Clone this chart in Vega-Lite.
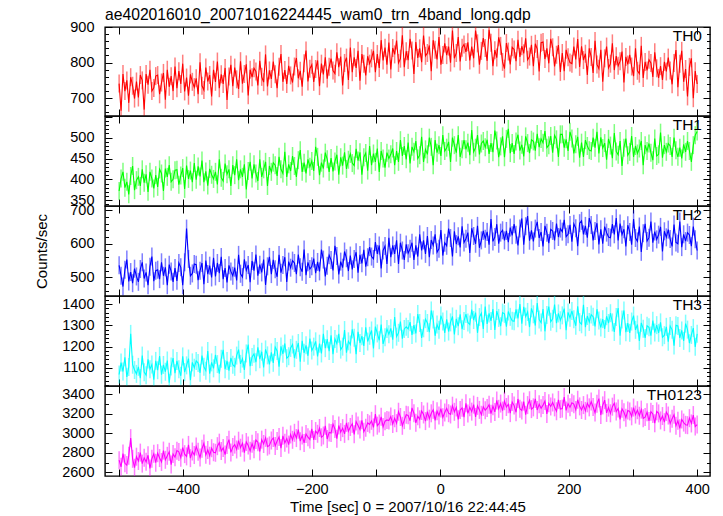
{
"$schema":"https://vega.github.io/schema/vega-lite/v6.json",
"padding":{"left":34,"top":6,"right":10,"bottom":4},
"bounds":"flush",
"title":{"text":"ae402016010_20071016224445_wam0_trn_4band_long.qdp","anchor":"start","frame":"group","fontSize":15.7,"offset":-5},
"datasets":{"w":[
{"t":-500,"a":741,"b":372,"c":536,"d":1069,"e":2724},{"t":-497,"a":665,"b":402,"c":505,"d":1125,"e":2656},{"t":-494,"a":768,"b":418,"c":473,"d":1083,"e":2792},{"t":-491,"a":720,"b":380,"c":523,"d":1150,"e":2692},{"t":-488,"a":750,"b":394,"c":553,"d":1058,"e":2674},{"t":-485,"a":687,"b":364,"c":488,"d":1104,"e":2769},{"t":-482,"a":759,"b":408,"c":516,"d":1260,"e":2950},{"t":-479,"a":735,"b":432,"c":483,"d":1115,"e":2738},{"t":-476,"a":699,"b":374,"c":526,"d":1090,"e":2647},{"t":-473,"a":747,"b":398,"c":503,"d":1072,"e":2760},
{"t":-470,"a":702,"b":406,"c":487,"d":1105,"e":2716},{"t":-467,"a":765,"b":384,"c":525,"d":1052,"e":2802},{"t":-464,"a":750,"b":424,"c":545,"d":1158,"e":2689},{"t":-461,"a":668,"b":392,"c":497,"d":1080,"e":2748},{"t":-458,"a":768,"b":412,"c":515,"d":1066,"e":2707},{"t":-455,"a":738,"b":370,"c":477,"d":1140,"e":2775},{"t":-452,"a":780,"b":418,"c":532,"d":1094,"e":2640},{"t":-449,"a":720,"b":402,"c":562,"d":1116,"e":2739},{"t":-446,"a":729,"b":378,"c":489,"d":1045,"e":2789},{"t":-443,"a":762,"b":410,"c":520,"d":1133,"e":2698},
{"t":-440,"a":765,"b":382,"c":523,"d":1089,"e":2796},{"t":-437,"a":711,"b":424,"c":495,"d":1156,"e":2746},{"t":-434,"a":744,"b":414,"c":545,"d":1068,"e":2706},{"t":-431,"a":771,"b":372,"c":505,"d":1114,"e":2823},{"t":-428,"a":696,"b":426,"c":530,"d":1082,"e":2728},{"t":-425,"a":780,"b":406,"c":477,"d":1135,"e":2769},{"t":-422,"a":732,"b":434,"c":538,"d":1030,"e":2810},{"t":-419,"a":762,"b":394,"c":518,"d":1107,"e":2679},{"t":-416,"a":720,"b":400,"c":487,"d":1146,"e":2787},{"t":-413,"a":789,"b":422,"c":528,"d":1075,"e":2755},
{"t":-410,"a":728,"b":423,"c":490,"d":1133,"e":2822},{"t":-407,"a":776,"b":387,"c":543,"d":1094,"e":2809},{"t":-404,"a":740,"b":409,"c":530,"d":1063,"e":2750},{"t":-401,"a":797,"b":427,"c":477,"d":1154,"e":2854},{"t":-398,"a":719,"b":377,"c":545,"d":1080,"e":2786},{"t":-395,"a":758,"b":433,"c":645,"d":1112,"e":2763},{"t":-392,"a":707,"b":401,"c":555,"d":1144,"e":2881},{"t":-389,"a":767,"b":421,"c":505,"d":1042,"e":2745},{"t":-386,"a":746,"b":393,"c":512,"d":1126,"e":2813},{"t":-383,"a":731,"b":439,"c":540,"d":1101,"e":2777},
{"t":-380,"a":756,"b":399,"c":538,"d":1133,"e":2865},{"t":-377,"a":711,"b":431,"c":492,"d":1123,"e":2810},{"t":-374,"a":801,"b":407,"c":520,"d":1077,"e":2752},{"t":-371,"a":735,"b":445,"c":543,"d":1158,"e":2842},{"t":-368,"a":723,"b":393,"c":480,"d":1105,"e":2896},{"t":-365,"a":786,"b":419,"c":550,"d":1087,"e":2779},{"t":-362,"a":747,"b":385,"c":510,"d":1179,"e":2829},{"t":-359,"a":765,"b":425,"c":535,"d":1073,"e":2770},{"t":-356,"a":705,"b":411,"c":500,"d":1126,"e":2847},{"t":-353,"a":780,"b":401,"c":558,"d":1098,"e":2806},
{"t":-350,"a":746,"b":418,"c":503,"d":1161,"e":2800},{"t":-347,"a":803,"b":388,"c":543,"d":1118,"e":2868},{"t":-344,"a":728,"b":448,"c":513,"d":1073,"e":2904},{"t":-341,"a":767,"b":404,"c":561,"d":1143,"e":2818},{"t":-338,"a":740,"b":396,"c":495,"d":1185,"e":2850},{"t":-335,"a":785,"b":438,"c":528,"d":1094,"e":2782},{"t":-332,"a":695,"b":412,"c":485,"d":1133,"e":2881},{"t":-329,"a":761,"b":424,"c":536,"d":1087,"e":2935},{"t":-326,"a":794,"b":384,"c":518,"d":1147,"e":2804},{"t":-323,"a":734,"b":434,"c":505,"d":1115,"e":2859},
{"t":-320,"a":786,"b":410,"c":529,"d":1105,"e":2884},{"t":-317,"a":753,"b":448,"c":491,"d":1158,"e":2834},{"t":-314,"a":726,"b":398,"c":567,"d":1186,"e":2924},{"t":-311,"a":804,"b":424,"c":511,"d":1119,"e":2852},{"t":-308,"a":741,"b":406,"c":501,"d":1144,"e":2897},{"t":-305,"a":768,"b":436,"c":554,"d":1091,"e":2802},{"t":-302,"a":795,"b":376,"c":521,"d":1168,"e":2911},{"t":-299,"a":708,"b":420,"c":537,"d":1210,"e":2875},{"t":-296,"a":780,"b":442,"c":486,"d":1108,"e":2820},{"t":-293,"a":759,"b":402,"c":549,"d":1151,"e":2893},
{"t":-290,"a":784,"b":436,"c":520,"d":1166,"e":2836},{"t":-287,"a":775,"b":414,"c":568,"d":1127,"e":2931},{"t":-284,"a":736,"b":396,"c":505,"d":1197,"e":2908},{"t":-281,"a":805,"b":448,"c":538,"d":1141,"e":2813},{"t":-278,"a":760,"b":406,"c":515,"d":1176,"e":2935},{"t":-275,"a":745,"b":424,"c":553,"d":1102,"e":2890},{"t":-272,"a":823,"b":442,"c":478,"d":1187,"e":2953},{"t":-269,"a":733,"b":384,"c":533,"d":1159,"e":2863},{"t":-266,"a":778,"b":432,"c":561,"d":1116,"e":2876},{"t":-263,"a":754,"b":418,"c":510,"d":1173,"e":2926},
{"t":-260,"a":803,"b":440,"c":552,"d":1124,"e":2952},{"t":-257,"a":767,"b":434,"c":524,"d":1198,"e":2870},{"t":-254,"a":728,"b":408,"c":502,"d":1180,"e":2920},{"t":-251,"a":788,"b":454,"c":567,"d":1106,"e":2961},{"t":-248,"a":824,"b":424,"c":514,"d":1201,"e":2848},{"t":-245,"a":746,"b":414,"c":537,"d":1166,"e":2974},{"t":-242,"a":779,"b":466,"c":560,"d":1215,"e":2902},{"t":-239,"a":740,"b":406,"c":487,"d":1145,"e":2947},{"t":-236,"a":791,"b":436,"c":547,"d":1155,"e":2884},{"t":-233,"a":764,"b":420,"c":529,"d":1194,"e":2988},
{"t":-230,"a":744,"b":456,"c":550,"d":1210,"e":2933},{"t":-227,"a":789,"b":432,"c":543,"d":1146,"e":3005},{"t":-224,"a":813,"b":406,"c":510,"d":1185,"e":2951},{"t":-221,"a":756,"b":446,"c":568,"d":1217,"e":3037},{"t":-218,"a":777,"b":470,"c":530,"d":1129,"e":2919},{"t":-215,"a":732,"b":418,"c":517,"d":1227,"e":2978},{"t":-212,"a":798,"b":440,"c":583,"d":1171,"e":2901},{"t":-209,"a":834,"b":414,"c":507,"d":1206,"e":2992},{"t":-206,"a":747,"b":448,"c":545,"d":1157,"e":2960},{"t":-203,"a":783,"b":430,"c":525,"d":1238,"e":2937},
{"t":-200,"a":794,"b":444,"c":533,"d":1182,"e":3045},{"t":-197,"a":746,"b":420,"c":556,"d":1200,"e":2932},{"t":-194,"a":782,"b":478,"c":513,"d":1225,"e":3023},{"t":-191,"a":806,"b":454,"c":546,"d":1154,"e":2995},{"t":-188,"a":734,"b":410,"c":518,"d":1214,"e":3054},{"t":-185,"a":797,"b":440,"c":583,"d":1168,"e":2959},{"t":-182,"a":767,"b":426,"c":553,"d":1260,"e":2977},{"t":-179,"a":815,"b":464,"c":503,"d":1193,"e":3077},{"t":-176,"a":755,"b":448,"c":535,"d":1235,"e":2941},{"t":-173,"a":788,"b":418,"c":566,"d":1179,"e":3009},
{"t":-170,"a":811,"b":451,"c":552,"d":1253,"e":3003},{"t":-167,"a":778,"b":419,"c":521,"d":1165,"e":3094},{"t":-164,"a":769,"b":443,"c":594,"d":1236,"e":3044},{"t":-161,"a":829,"b":459,"c":564,"d":1214,"e":2945},{"t":-158,"a":787,"b":411,"c":509,"d":1260,"e":3080},{"t":-155,"a":817,"b":453,"c":547,"d":1186,"e":3012},{"t":-152,"a":736,"b":433,"c":529,"d":1200,"e":3053},{"t":-149,"a":799,"b":465,"c":577,"d":1278,"e":2994},{"t":-146,"a":814,"b":425,"c":557,"d":1172,"e":3107},{"t":-143,"a":751,"b":447,"c":519,"d":1225,"e":3021},
{"t":-140,"a":842,"b":461,"c":565,"d":1210,"e":3065},{"t":-137,"a":773,"b":439,"c":524,"d":1281,"e":3097},{"t":-134,"a":815,"b":433,"c":555,"d":1242,"e":2989},{"t":-131,"a":785,"b":473,"c":575,"d":1165,"e":3120},{"t":-128,"a":833,"b":445,"c":514,"d":1270,"e":3079},{"t":-125,"a":749,"b":465,"c":567,"d":1217,"e":3038},{"t":-122,"a":824,"b":411,"c":542,"d":1249,"e":3133},{"t":-119,"a":797,"b":453,"c":582,"d":1203,"e":3016},{"t":-116,"a":764,"b":463,"c":532,"d":1291,"e":3056},{"t":-113,"a":818,"b":421,"c":560,"d":1224,"e":3106},
{"t":-110,"a":797,"b":480,"c":590,"d":1251,"e":3092},{"t":-107,"a":812,"b":434,"c":562,"d":1276,"e":3128},{"t":-104,"a":833,"b":462,"c":555,"d":1192,"e":3060},{"t":-101,"a":773,"b":442,"c":605,"d":1294,"e":3196},{"t":-98,"a":824,"b":474,"c":570,"d":1262,"e":3078},{"t":-95,"a":785,"b":418,"c":595,"d":1230,"e":3101},{"t":-92,"a":863,"b":468,"c":527,"d":1304,"e":3169},{"t":-89,"a":806,"b":450,"c":580,"d":1213,"e":3065},{"t":-86,"a":842,"b":428,"c":593,"d":1244,"e":3124},{"t":-83,"a":794,"b":464,"c":540,"d":1283,"e":3137},
{"t":-80,"a":856,"b":450,"c":618,"d":1258,"e":3131},{"t":-77,"a":781,"b":460,"c":560,"d":1286,"e":3172},{"t":-74,"a":841,"b":474,"c":595,"d":1233,"e":3095},{"t":-71,"a":823,"b":434,"c":570,"d":1339,"e":3154},{"t":-68,"a":862,"b":468,"c":610,"d":1247,"e":3104},{"t":-65,"a":799,"b":442,"c":540,"d":1265,"e":3221},{"t":-62,"a":811,"b":494,"c":603,"d":1318,"e":3167},{"t":-59,"a":877,"b":456,"c":580,"d":1237,"e":3077},{"t":-56,"a":787,"b":480,"c":552,"d":1283,"e":3135},{"t":-53,"a":832,"b":448,"c":598,"d":1293,"e":3190},
{"t":-50,"a":807,"b":488,"c":572,"d":1283,"e":3184},{"t":-47,"a":867,"b":438,"c":585,"d":1315,"e":3129},{"t":-44,"a":834,"b":478,"c":603,"d":1255,"e":3260},{"t":-41,"a":768,"b":466,"c":552,"d":1301,"e":3206},{"t":-38,"a":858,"b":492,"c":595,"d":1262,"e":3107},{"t":-35,"a":813,"b":450,"c":562,"d":1353,"e":3175},{"t":-32,"a":840,"b":458,"c":628,"d":1311,"e":3143},{"t":-29,"a":801,"b":502,"c":580,"d":1241,"e":3229},{"t":-26,"a":876,"b":442,"c":610,"d":1286,"e":3193},{"t":-23,"a":819,"b":472,"c":570,"d":1329,"e":3125},
{"t":-20,"a":827,"b":460,"c":623,"d":1311,"e":3223},{"t":-17,"a":848,"b":500,"c":560,"d":1268,"e":3150},{"t":-14,"a":776,"b":478,"c":611,"d":1370,"e":3205},{"t":-11,"a":863,"b":434,"c":595,"d":1328,"e":3241},{"t":-8,"a":836,"b":494,"c":628,"d":1251,"e":3132},{"t":-5,"a":809,"b":464,"c":575,"d":1304,"e":3227},{"t":-2,"a":872,"b":482,"c":585,"d":1279,"e":3182},{"t":1,"a":794,"b":456,"c":641,"d":1346,"e":3254},{"t":4,"a":821,"b":506,"c":565,"d":1318,"e":3164},{"t":7,"a":854,"b":468,"c":603,"d":1265,"e":3214},
{"t":10,"a":821,"b":476,"c":594,"d":1328,"e":3256},{"t":13,"a":845,"b":490,"c":645,"d":1271,"e":3206},{"t":16,"a":800,"b":442,"c":617,"d":1314,"e":3193},{"t":19,"a":890,"b":500,"c":562,"d":1342,"e":3283},{"t":22,"a":812,"b":482,"c":637,"d":1257,"e":3220},{"t":25,"a":827,"b":464,"c":599,"d":1331,"e":3265},{"t":28,"a":872,"b":506,"c":622,"d":1296,"e":3143},{"t":31,"a":803,"b":454,"c":589,"d":1352,"e":3238},{"t":34,"a":842,"b":472,"c":652,"d":1282,"e":3261},{"t":37,"a":851,"b":494,"c":604,"d":1321,"e":3166},
{"t":40,"a":830,"b":472,"c":615,"d":1353,"e":3308},{"t":43,"a":857,"b":488,"c":633,"d":1314,"e":3204},{"t":46,"a":806,"b":458,"c":573,"d":1304,"e":3267},{"t":49,"a":845,"b":518,"c":646,"d":1374,"e":3222},{"t":52,"a":812,"b":466,"c":623,"d":1325,"e":3294},{"t":55,"a":890,"b":476,"c":600,"d":1360,"e":3168},{"t":58,"a":854,"b":506,"c":653,"d":1265,"e":3281},{"t":61,"a":794,"b":460,"c":588,"d":1339,"e":3240},{"t":64,"a":833,"b":486,"c":610,"d":1357,"e":3190},{"t":67,"a":869,"b":492,"c":638,"d":1283,"e":3272},
{"t":70,"a":841,"b":477,"c":615,"d":1388,"e":3237},{"t":73,"a":805,"b":495,"c":635,"d":1307,"e":3260},{"t":76,"a":892,"b":461,"c":597,"d":1356,"e":3292},{"t":79,"a":856,"b":487,"c":673,"d":1321,"e":3201},{"t":82,"a":790,"b":465,"c":607,"d":1377,"e":3278},{"t":85,"a":835,"b":517,"c":620,"d":1279,"e":3219},{"t":88,"a":814,"b":493,"c":658,"d":1367,"e":3337},{"t":91,"a":871,"b":453,"c":600,"d":1335,"e":3251},{"t":94,"a":847,"b":479,"c":633,"d":1296,"e":3305},{"t":97,"a":802,"b":503,"c":640,"d":1360,"e":3233},
{"t":100,"a":783,"b":453,"c":610,"d":1354,"e":3329},{"t":103,"a":855,"b":497,"c":638,"d":1294,"e":3270},{"t":106,"a":831,"b":521,"c":605,"d":1365,"e":3298},{"t":109,"a":795,"b":463,"c":648,"d":1340,"e":3207},{"t":112,"a":843,"b":487,"c":625,"d":1322,"e":3320},{"t":115,"a":837,"b":461,"c":658,"d":1319,"e":3284},{"t":118,"a":804,"b":491,"c":627,"d":1375,"e":3216},{"t":121,"a":864,"b":507,"c":595,"d":1333,"e":3352},{"t":124,"a":816,"b":469,"c":645,"d":1400,"e":3252},{"t":127,"a":846,"b":483,"c":675,"d":1308,"e":3234},
{"t":130,"a":826,"b":455,"c":597,"d":1387,"e":3325},{"t":133,"a":868,"b":503,"c":652,"d":1341,"e":3190},{"t":136,"a":808,"b":487,"c":682,"d":1363,"e":3289},{"t":139,"a":817,"b":463,"c":609,"d":1292,"e":3339},{"t":142,"a":850,"b":495,"c":640,"d":1380,"e":3248},{"t":145,"a":790,"b":491,"c":607,"d":1352,"e":3266},{"t":148,"a":853,"b":469,"c":645,"d":1299,"e":3352},{"t":151,"a":838,"b":509,"c":665,"d":1405,"e":3239},{"t":154,"a":775,"b":477,"c":617,"d":1327,"e":3298},{"t":157,"a":856,"b":497,"c":635,"d":1313,"e":3257},
{"t":160,"a":858,"b":488,"c":592,"d":1377,"e":3289},{"t":163,"a":810,"b":516,"c":653,"d":1272,"e":3330},{"t":166,"a":840,"b":476,"c":633,"d":1349,"e":3199},{"t":169,"a":798,"b":482,"c":602,"d":1388,"e":3307},{"t":172,"a":867,"b":504,"c":643,"d":1317,"e":3275},{"t":175,"a":843,"b":464,"c":638,"d":1331,"e":3316},{"t":178,"a":789,"b":506,"c":610,"d":1398,"e":3266},{"t":181,"a":822,"b":496,"c":660,"d":1310,"e":3226},{"t":184,"a":849,"b":454,"c":620,"d":1356,"e":3343},{"t":187,"a":774,"b":508,"c":645,"d":1324,"e":3248},
{"t":190,"a":827,"b":508,"c":636,"d":1347,"e":3253},{"t":193,"a":776,"b":476,"c":671,"d":1379,"e":3371},{"t":196,"a":836,"b":496,"c":621,"d":1277,"e":3235},{"t":199,"a":815,"b":468,"c":628,"d":1361,"e":3303},{"t":202,"a":800,"b":514,"c":656,"d":1336,"e":3267},{"t":205,"a":797,"b":498,"c":606,"d":1368,"e":3312},{"t":208,"a":845,"b":462,"c":659,"d":1329,"e":3299},{"t":211,"a":809,"b":484,"c":646,"d":1298,"e":3240},{"t":214,"a":866,"b":502,"c":593,"d":1389,"e":3344},{"t":217,"a":788,"b":452,"c":661,"d":1315,"e":3276},
{"t":220,"a":846,"b":488,"c":668,"d":1305,"e":3239},{"t":223,"a":807,"b":454,"c":628,"d":1397,"e":3289},{"t":226,"a":825,"b":494,"c":653,"d":1291,"e":3230},{"t":229,"a":765,"b":480,"c":618,"d":1344,"e":3307},{"t":232,"a":840,"b":470,"c":676,"d":1316,"e":3266},{"t":235,"a":816,"b":468,"c":656,"d":1351,"e":3325},{"t":238,"a":771,"b":500,"c":610,"d":1341,"e":3270},{"t":241,"a":861,"b":476,"c":638,"d":1295,"e":3212},{"t":244,"a":795,"b":514,"c":661,"d":1376,"e":3302},{"t":247,"a":783,"b":462,"c":598,"d":1323,"e":3356},
{"t":250,"a":836,"b":501,"c":643,"d":1290,"e":3187},{"t":253,"a":746,"b":475,"c":600,"d":1329,"e":3286},{"t":256,"a":812,"b":487,"c":651,"d":1283,"e":3340},{"t":259,"a":845,"b":447,"c":633,"d":1343,"e":3209},{"t":262,"a":785,"b":497,"c":620,"d":1311,"e":3264},{"t":265,"a":797,"b":481,"c":618,"d":1357,"e":3205},{"t":268,"a":854,"b":451,"c":658,"d":1314,"e":3273},{"t":271,"a":779,"b":511,"c":628,"d":1269,"e":3309},{"t":274,"a":818,"b":467,"c":676,"d":1339,"e":3223},{"t":277,"a":791,"b":459,"c":610,"d":1381,"e":3255},
{"t":280,"a":804,"b":492,"c":660,"d":1251,"e":3142},{"t":283,"a":831,"b":432,"c":627,"d":1328,"e":3251},{"t":286,"a":744,"b":476,"c":643,"d":1370,"e":3215},{"t":289,"a":816,"b":498,"c":592,"d":1268,"e":3160},{"t":292,"a":795,"b":458,"c":655,"d":1311,"e":3233},{"t":295,"a":822,"b":466,"c":635,"d":1265,"e":3224},{"t":298,"a":789,"b":504,"c":597,"d":1318,"e":3174},{"t":301,"a":762,"b":454,"c":673,"d":1346,"e":3264},{"t":304,"a":840,"b":480,"c":617,"d":1279,"e":3192},{"t":307,"a":777,"b":462,"c":607,"d":1304,"e":3237},
{"t":310,"a":769,"b":474,"c":651,"d":1227,"e":3180},{"t":313,"a":847,"b":492,"c":576,"d":1312,"e":3243},{"t":316,"a":757,"b":434,"c":631,"d":1284,"e":3153},{"t":319,"a":802,"b":482,"c":659,"d":1241,"e":3166},{"t":322,"a":778,"b":468,"c":608,"d":1298,"e":3216},{"t":325,"a":808,"b":486,"c":618,"d":1291,"e":3126},{"t":328,"a":799,"b":464,"c":666,"d":1252,"e":3221},{"t":331,"a":760,"b":446,"c":603,"d":1322,"e":3198},{"t":334,"a":829,"b":498,"c":636,"d":1266,"e":3103},{"t":337,"a":784,"b":456,"c":613,"d":1301,"e":3225},
{"t":340,"a":757,"b":460,"c":627,"d":1265,"e":3204},{"t":343,"a":790,"b":512,"c":650,"d":1314,"e":3132},{"t":346,"a":751,"b":452,"c":577,"d":1244,"e":3177},{"t":349,"a":802,"b":482,"c":637,"d":1254,"e":3114},{"t":352,"a":775,"b":466,"c":619,"d":1293,"e":3218},{"t":355,"a":814,"b":486,"c":642,"d":1223,"e":3182},{"t":358,"a":778,"b":480,"c":614,"d":1297,"e":3100},{"t":361,"a":739,"b":454,"c":592,"d":1279,"e":3150},{"t":364,"a":799,"b":500,"c":657,"d":1205,"e":3191},{"t":367,"a":835,"b":470,"c":604,"d":1300,"e":3078},
{"t":370,"a":731,"b":454,"c":600,"d":1297,"e":3128},{"t":373,"a":797,"b":476,"c":666,"d":1241,"e":3051},{"t":376,"a":833,"b":450,"c":590,"d":1276,"e":3142},{"t":379,"a":746,"b":484,"c":628,"d":1227,"e":3110},{"t":382,"a":782,"b":466,"c":608,"d":1308,"e":3087},{"t":385,"a":705,"b":492,"c":633,"d":1280,"e":3083},{"t":388,"a":788,"b":468,"c":626,"d":1216,"e":3155},{"t":391,"a":812,"b":442,"c":593,"d":1255,"e":3101},{"t":394,"a":700,"b":482,"c":651,"d":1287,"e":3187},{"t":397,"a":776,"b":506,"c":613,"d":1199,"e":3069},
{"t":400,"a":740,"b":515,"c":580,"d":1260,"e":3090}
]},
"vconcat":[
{"width":605,"height":89,"data":{"name":"w"},
 "layer":[
  {"mark":{"type":"tick","orient":"vertical","color":"#ff0000","size":18,"thickness":1.5,"opacity":0.5,"clip":true},
   "encoding":{
    "x":{"field":"t","type":"quantitative","scale":{"domain":[-522,420],"nice":false,"zero":false},"axis":{"orient":"bottom","values":[-500,-400,-300,-200,-100,0,100,200,300,400],"labels":false,"title":null,"tickSize":-7}},
    "y":{"field":"a","type":"quantitative","scale":{"domain":[650,900],"nice":false,"zero":false},"axis":{"orient":"left","values":[660,680,700,720,740,760,780,800,820,840,860,880,900],"format":"d","labelExpr":"datum.value % 100 === 0 ? datum.label : ''","tickSize":{"condition":{"test":"datum.value % 100 === 0","value":-7},"value":-3.5},"labelPadding":18,"title":null}}}},
  {"mark":{"type":"line","color":"#ff0000","strokeWidth":1.1,"clip":true},
   "encoding":{
    "x":{"field":"t","type":"quantitative","axis":{"orient":"top","values":[-500,-400,-300,-200,-100,0,100,200,300,400],"labels":false,"title":null,"tickSize":-7}},
    "y":{"field":"a","type":"quantitative","axis":{"orient":"right","values":[660,680,700,720,740,760,780,800,820,840,860,880,900],"labels":false,"tickSize":{"condition":{"test":"datum.value % 100 === 0","value":-7},"value":-3.5},"title":null}}}},
  {"data":{"values":[{"name":"TH0"}]},
   "mark":{"type":"text","align":"right","baseline":"top","dx":-8,"dy":2,"fontSize":15.5,"font":"Liberation Sans","color":"#000000"},
   "encoding":{"x":{"datum":420,"type":"quantitative","axis":null},"y":{"datum":900,"type":"quantitative","axis":null},"text":{"field":"name"}}}
 ],
 "resolve":{"axis":{"x":"independent","y":"independent"}}},
{"width":605,"height":90,"data":{"name":"w"},
 "layer":[
  {"mark":{"type":"tick","orient":"vertical","color":"#00ff00","size":18,"thickness":1.5,"opacity":0.5,"clip":true},
   "encoding":{
    "x":{"field":"t","type":"quantitative","scale":{"domain":[-522,420],"nice":false,"zero":false},"axis":{"orient":"bottom","values":[-500,-400,-300,-200,-100,0,100,200,300,400],"labels":false,"title":null,"tickSize":-7}},
    "y":{"field":"b","type":"quantitative","scale":{"domain":[336,552],"nice":false,"zero":false},"axis":{"orient":"left","values":[340,350,360,370,380,390,400,410,420,430,440,450,460,470,480,490,500,510,520,530,540,550],"format":"d","labelExpr":"datum.value % 50 === 0 && datum.value < 540 ? datum.label : ''","tickSize":{"condition":{"test":"datum.value % 50 === 0","value":-7},"value":-3.5},"labelPadding":18,"title":null}}}},
  {"mark":{"type":"line","color":"#00ff00","strokeWidth":1.1,"clip":true},
   "encoding":{
    "x":{"field":"t","type":"quantitative","axis":{"orient":"top","values":[-500,-400,-300,-200,-100,0,100,200,300,400],"labels":false,"title":null,"tickSize":-7}},
    "y":{"field":"b","type":"quantitative","axis":{"orient":"right","values":[340,350,360,370,380,390,400,410,420,430,440,450,460,470,480,490,500,510,520,530,540,550],"labels":false,"tickSize":{"condition":{"test":"datum.value % 50 === 0","value":-7},"value":-3.5},"title":null}}}},
  {"data":{"values":[{"name":"TH1"}]},
   "mark":{"type":"text","align":"right","baseline":"top","dx":-8,"dy":2,"fontSize":15.5,"font":"Liberation Sans","color":"#000000"},
   "encoding":{"x":{"datum":420,"type":"quantitative","axis":null},"y":{"datum":552,"type":"quantitative","axis":null},"text":{"field":"name"}}}
 ],
 "resolve":{"axis":{"x":"independent","y":"independent"}}},
{"width":605,"height":90,"data":{"name":"w"},
 "layer":[
  {"mark":{"type":"tick","orient":"vertical","color":"#0000ff","size":18,"thickness":1.5,"opacity":0.5,"clip":true},
   "encoding":{
    "x":{"field":"t","type":"quantitative","scale":{"domain":[-522,420],"nice":false,"zero":false},"axis":{"orient":"bottom","values":[-500,-400,-300,-200,-100,0,100,200,300,400],"labels":false,"title":null,"tickSize":-7}},
    "y":{"field":"c","type":"quantitative","scale":{"domain":[445,712],"nice":false,"zero":false},"axis":{"orient":"left","values":[460,480,500,520,540,560,580,600,620,640,660,680,700],"format":"d","labelExpr":"datum.value % 100 === 0 ? datum.label : ''","tickSize":{"condition":{"test":"datum.value % 100 === 0","value":-7},"value":-3.5},"labelPadding":18,"title":"Counts/sec","titlePadding":20}}}},
  {"mark":{"type":"line","color":"#0000ff","strokeWidth":1.1,"clip":true},
   "encoding":{
    "x":{"field":"t","type":"quantitative","axis":{"orient":"top","values":[-500,-400,-300,-200,-100,0,100,200,300,400],"labels":false,"title":null,"tickSize":-7}},
    "y":{"field":"c","type":"quantitative","axis":{"orient":"right","values":[460,480,500,520,540,560,580,600,620,640,660,680,700],"labels":false,"tickSize":{"condition":{"test":"datum.value % 100 === 0","value":-7},"value":-3.5},"title":null}}}},
  {"data":{"values":[{"name":"TH2"}]},
   "mark":{"type":"text","align":"right","baseline":"top","dx":-8,"dy":2,"fontSize":15.5,"font":"Liberation Sans","color":"#000000"},
   "encoding":{"x":{"datum":420,"type":"quantitative","axis":null},"y":{"datum":712,"type":"quantitative","axis":null},"text":{"field":"name"}}}
 ],
 "resolve":{"axis":{"x":"independent","y":"independent"}}},
{"width":605,"height":90,"data":{"name":"w"},
 "layer":[
  {"mark":{"type":"tick","orient":"vertical","color":"#00ffff","size":18,"thickness":1.5,"opacity":0.5,"clip":true},
   "encoding":{
    "x":{"field":"t","type":"quantitative","scale":{"domain":[-522,420],"nice":false,"zero":false},"axis":{"orient":"bottom","values":[-500,-400,-300,-200,-100,0,100,200,300,400],"labels":false,"title":null,"tickSize":-7}},
    "y":{"field":"d","type":"quantitative","scale":{"domain":[1015,1438],"nice":false,"zero":false},"axis":{"orient":"left","values":[1020,1040,1060,1080,1100,1120,1140,1160,1180,1200,1220,1240,1260,1280,1300,1320,1340,1360,1380,1400,1420],"format":"d","labelExpr":"datum.value % 100 === 0 ? datum.label : ''","tickSize":{"condition":{"test":"datum.value % 100 === 0","value":-7},"value":-3.5},"labelPadding":18,"title":null}}}},
  {"mark":{"type":"line","color":"#00ffff","strokeWidth":1.1,"clip":true},
   "encoding":{
    "x":{"field":"t","type":"quantitative","axis":{"orient":"top","values":[-500,-400,-300,-200,-100,0,100,200,300,400],"labels":false,"title":null,"tickSize":-7}},
    "y":{"field":"d","type":"quantitative","axis":{"orient":"right","values":[1020,1040,1060,1080,1100,1120,1140,1160,1180,1200,1220,1240,1260,1280,1300,1320,1340,1360,1380,1400,1420],"labels":false,"tickSize":{"condition":{"test":"datum.value % 100 === 0","value":-7},"value":-3.5},"title":null}}}},
  {"data":{"values":[{"name":"TH3"}]},
   "mark":{"type":"text","align":"right","baseline":"top","dx":-8,"dy":2,"fontSize":15.5,"font":"Liberation Sans","color":"#000000"},
   "encoding":{"x":{"datum":420,"type":"quantitative","axis":null},"y":{"datum":1438,"type":"quantitative","axis":null},"text":{"field":"name"}}}
 ],
 "resolve":{"axis":{"x":"independent","y":"independent"}}},
{"width":605,"height":90,"data":{"name":"w"},
 "layer":[
  {"mark":{"type":"tick","orient":"vertical","color":"#ff00ff","size":18,"thickness":1.5,"opacity":0.5,"clip":true},
   "encoding":{
    "x":{"field":"t","type":"quantitative","scale":{"domain":[-522,420],"nice":false,"zero":false},"axis":{"orient":"bottom","values":[-500,-400,-300,-200,-100,0,100,200,300,400],"labelExpr":"datum.value % 200 === 0 ? datum.label : ''","title":"Time [sec] 0 = 2007/10/16 22:44:45","tickSize":-7,"labelPadding":13,"titlePadding":4}},
    "y":{"field":"e","type":"quantitative","scale":{"domain":[2562,3485],"nice":false,"zero":false},"axis":{"orient":"left","values":[2600,2700,2800,2900,3000,3100,3200,3300,3400],"format":"d","labelExpr":"datum.value % 200 === 0 ? datum.label : ''","tickSize":{"condition":{"test":"datum.value % 200 === 0","value":-7},"value":-3.5},"labelPadding":18,"title":null}}}},
  {"mark":{"type":"line","color":"#ff00ff","strokeWidth":1.1,"clip":true},
   "encoding":{
    "x":{"field":"t","type":"quantitative","axis":{"orient":"top","values":[-500,-400,-300,-200,-100,0,100,200,300,400],"labels":false,"title":null,"tickSize":-7}},
    "y":{"field":"e","type":"quantitative","axis":{"orient":"right","values":[2600,2700,2800,2900,3000,3100,3200,3300,3400],"labels":false,"tickSize":{"condition":{"test":"datum.value % 200 === 0","value":-7},"value":-3.5},"title":null}}}},
  {"data":{"values":[{"name":"TH0123"}]},
   "mark":{"type":"text","align":"right","baseline":"top","dx":-8,"dy":2,"fontSize":15.5,"font":"Liberation Sans","color":"#000000"},
   "encoding":{"x":{"datum":420,"type":"quantitative","axis":null},"y":{"datum":3485,"type":"quantitative","axis":null},"text":{"field":"name"}}}
 ],
 "resolve":{"axis":{"x":"independent","y":"independent"}}}
],
"spacing":0,
"config":{
 "view":{"stroke":"#000000","strokeWidth":1.4},
 "axis":{"domain":false,"grid":false,"tickColor":"#000000","tickWidth":1,"labelColor":"#000000","labelFont":"Liberation Sans","labelFontSize":14.5,"labelOverlap":false,"labelFlush":false,"titleFont":"Liberation Sans","titleFontSize":15,"titleFontWeight":"normal","titleColor":"#000000"},
 "title":{"font":"Liberation Sans","fontSize":15,"fontWeight":"normal","color":"#000000"}
}
}
